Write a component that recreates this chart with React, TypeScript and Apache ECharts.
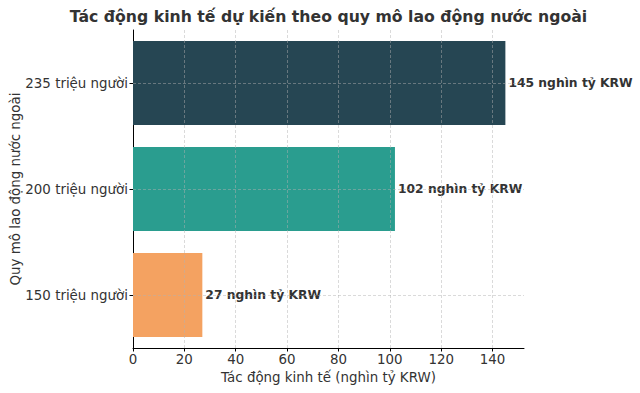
import React, { useEffect, useRef } from "react";
import * as echarts from "echarts";

const categories = ["150 triệu người", "200 triệu người", "235 triệu người"];
const values = [27, 102, 145];
const barColors = ["#F4A261", "#2A9D8F", "#264653"];
const xTicks = [0, 20, 40, 60, 80, 100, 120, 140];

const FONT = "DejaVu Sans";

export default function App() {
  const ref = useRef<HTMLDivElement>(null);
  useEffect(() => {
    if (!ref.current) return;
    const chart = echarts.init(ref.current, null, { renderer: "svg" });
    const gridLine = { type: [3, 2] as any, color: "rgba(176,176,176,0.6)", width: 0.8 };
    chart.setOption({
      animation: false,
      textStyle: { fontFamily: FONT },
      grid: { left: 133, right: 116, top: 30, bottom: 45 },
      graphic: [
        {
          type: "text",
          x: 328.5,
          y: 16,
          style: {
            text: "Tác động kinh tế dự kiến theo quy mô lao động nước ngoài",
            font: `bold 15.7px '${FONT}'`,
            fill: "#333333",
            textAlign: "center",
            textVerticalAlign: "middle",
          },
        },
        {
          type: "text",
          x: 15,
          y: 189,
          rotation: Math.PI / 2,
          style: {
            text: "Quy mô lao động nước ngoài",
            font: `13.4px '${FONT}'`,
            fill: "#333333",
            textAlign: "center",
            textVerticalAlign: "middle",
          },
        },
      ],
      xAxis: {
        type: "value",
        min: 0,
        max: 152.25,
        interval: 20,
        name: "Tác động kinh tế (nghìn tỷ KRW)",
        nameLocation: "middle",
        nameGap: 22,
        nameTextStyle: { fontSize: 13.4, color: "#333", fontFamily: FONT },
        axisLine: { show: true, lineStyle: { color: "#000", width: 1 } },
        axisTick: { show: true, length: 3.5, lineStyle: { color: "#000" }, customValues: xTicks },
        axisLabel: { fontSize: 13.4, color: "#333", margin: 5, customValues: xTicks, fontFamily: FONT },
        splitLine: { show: false },
      },
      yAxis: {
        type: "category",
        data: categories,
        axisLine: { show: true, lineStyle: { color: "#000", width: 1 } },
        axisTick: { show: true, length: 3.5, alignWithLabel: true, lineStyle: { color: "#000" } },
        axisLabel: { fontSize: 13.4, color: "#333", margin: 5, fontFamily: FONT },
        splitLine: { show: false },
      },
      series: [
        {
          type: "bar",
          barWidth: 84,
          data: values.map((v, i) => ({ value: v, itemStyle: { color: barColors[i] } })),
          label: {
            show: true,
            position: "right",
            distance: 3,
            formatter: "{c} nghìn tỷ KRW",
            fontFamily: FONT,
            fontWeight: "bold",
            fontSize: 12.3,
            color: "#333",
          },
          markLine: {
            silent: true,
            symbol: "none",
            label: { show: false },
            lineStyle: gridLine,
            data: [
              ...xTicks.filter((t) => t > 0).map((t) => ({ xAxis: t })),
              ...categories.map((c) => ({ yAxis: c })),
            ],
          },
        },
      ],
    });
    return () => chart.dispose();
  }, []);
  return (
    <div
      ref={ref}
      style={{ position: "fixed", left: 0, top: 0, width: 640, height: 393, background: "#fff" }}
    />
  );
}
